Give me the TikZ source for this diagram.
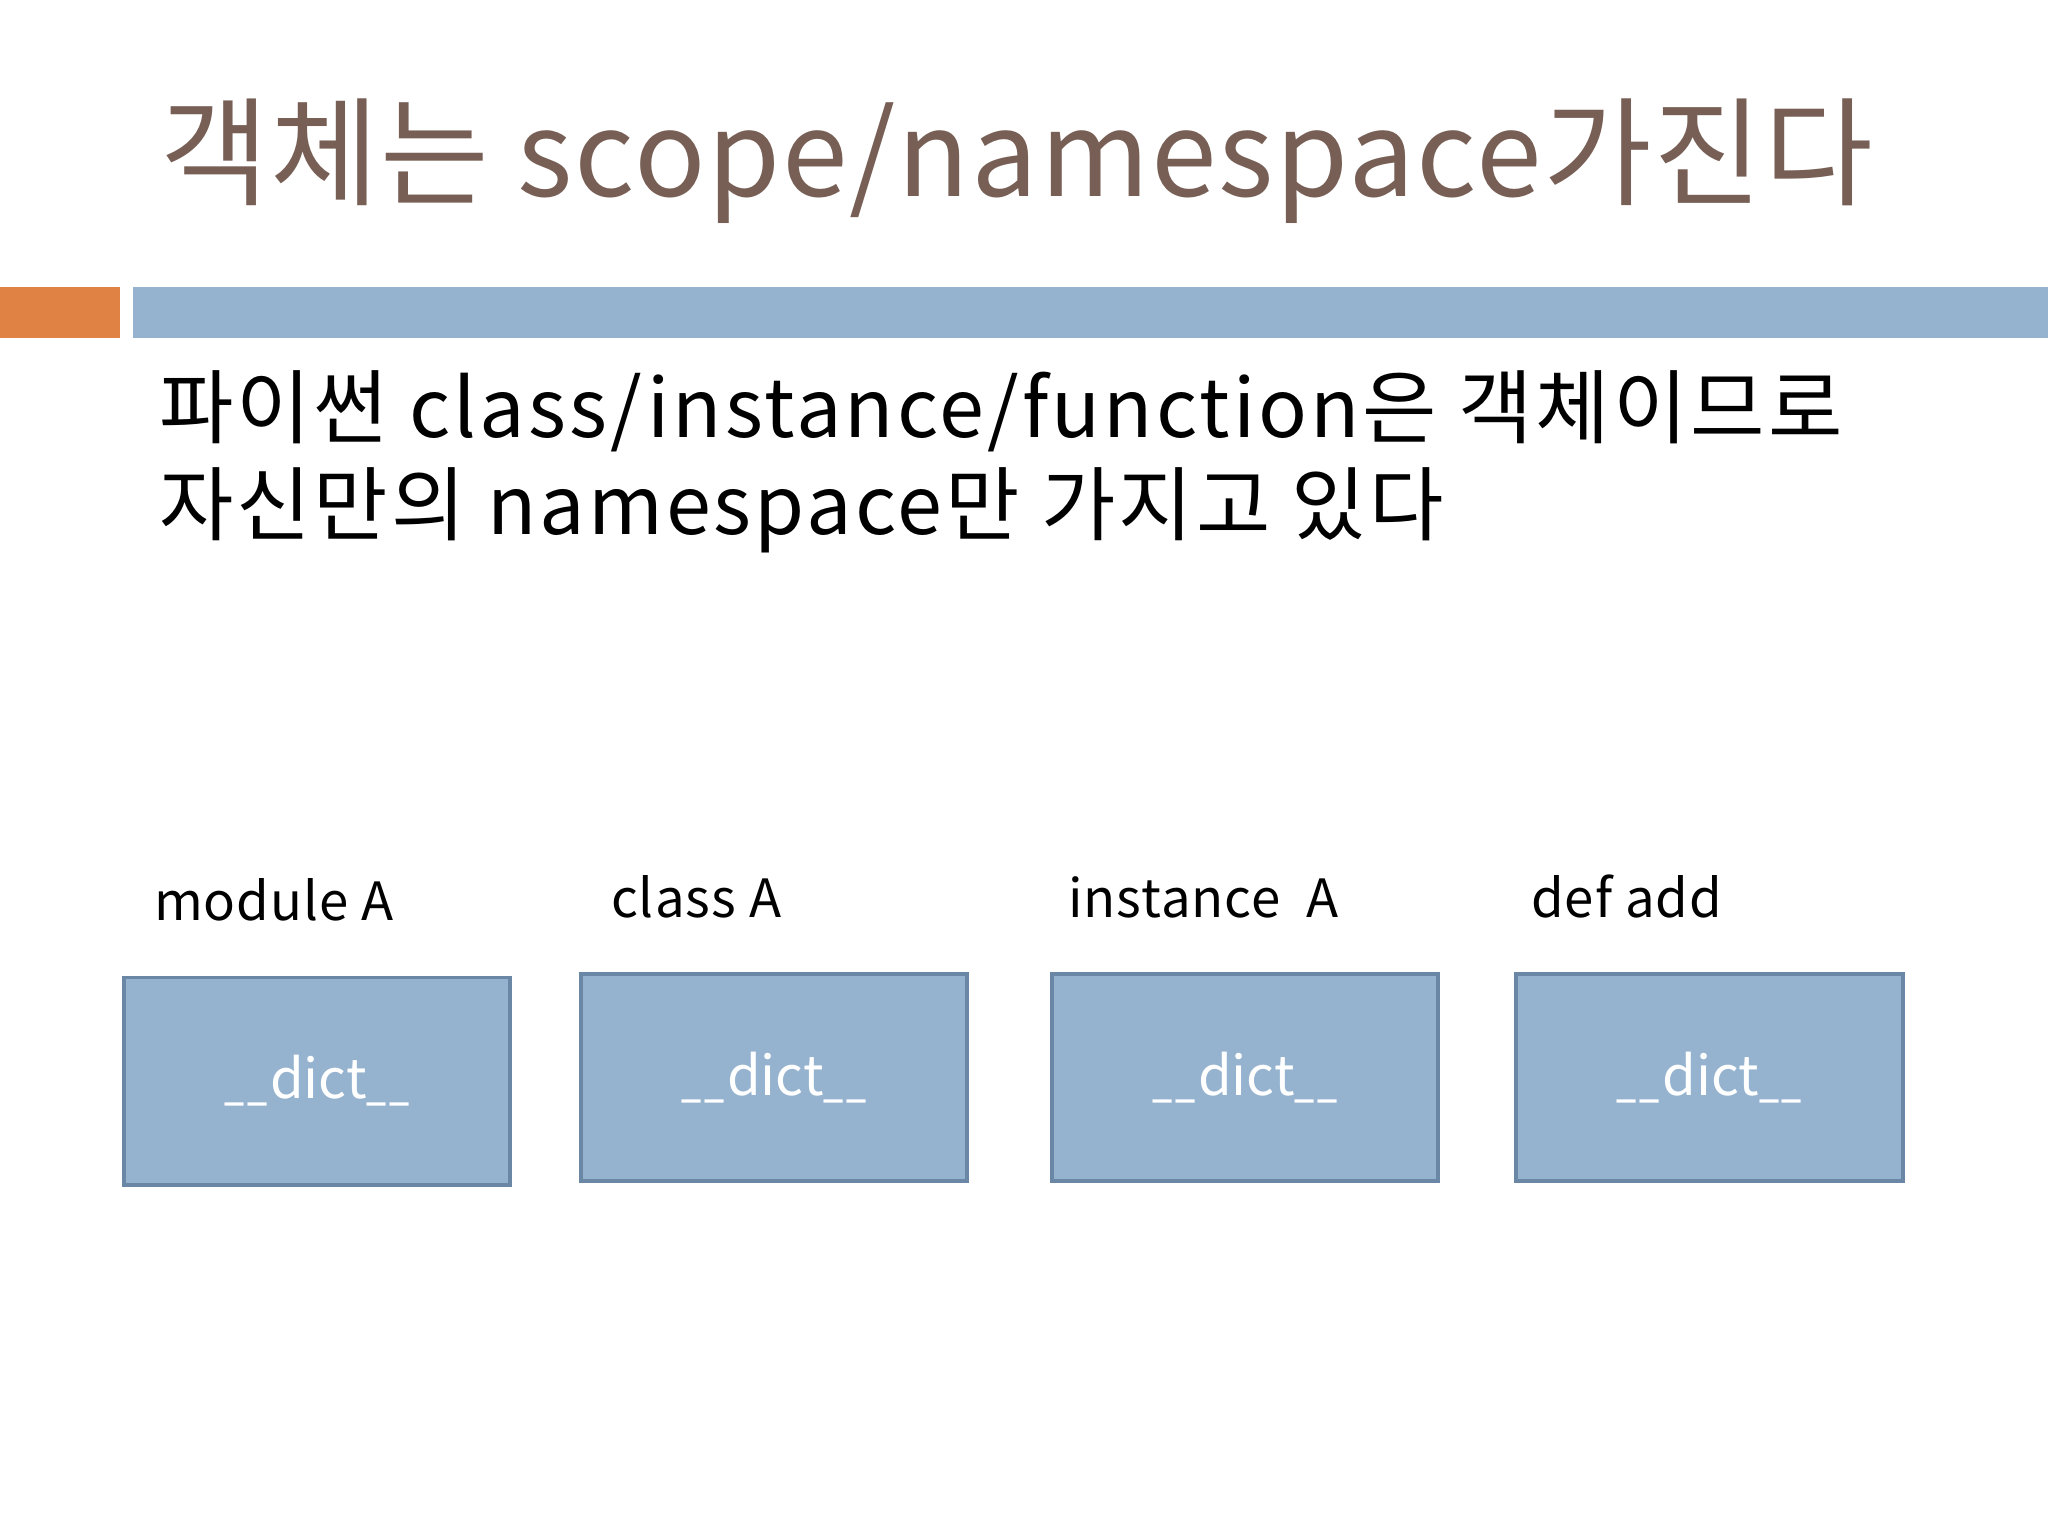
\documentclass[tikz,border=0pt]{standalone}
\usepackage{fontspec}
\setmainfont{Noto Sans CJK KR}
\usepackage{graphicx}
\usepackage{tikz}
\usepackage{xcolor}
\definecolor{titlebrown}{HTML}{775F55}
\definecolor{baseblue}{HTML}{95B3CF}
\definecolor{edgeblue}{HTML}{6A87A6}
\definecolor{accentorange}{HTML}{DF8244}
\newcommand{\dictus}{\scalebox{0.66}[1]{\_}\hspace{0.05em}}
\tikzset{
  txt/.style = {anchor=base west, inner sep=0pt, outer sep=0pt},
  dictbox/.style = {draw=edgeblue, line width=1.1pt, fill=baseblue, minimum width=3.86cm,
    minimum height=2.07cm, inner sep=0pt, text=white, font=\fontsize{15.5}{18}\selectfont},
  boxlabel/.style = {txt, font=\fontsize{15}{18}\selectfont\addfontfeatures{LetterSpace=2}},
  bodytext/.style = {txt, font=\fontsize{23}{29}\selectfont\addfontfeatures{LetterSpace=3.8}}
}

\begin{document}
\begin{tikzpicture}[x=0.01cm,y=-0.01cm]

  \useasboundingbox[fill=white] (0,0) rectangle (2048,1536);

  % title and bars
  \node[txt, text=titlebrown, font=\fontsize{33.6}{40}\selectfont\addfontfeatures{LetterSpace=1.5}] (title) at (160,196) {객체는 scope/namespace가진다};
  \fill[accentorange] (0,287) rectangle (120,338);
  \fill[baseblue] (133,287) rectangle (2048,338);

  \node[bodytext] (line1) at (159,437) {파이썬 class/instance/function은 객체이므로};
  \node[bodytext] (line2) at (159,534) {자신만의 namespace만 가지고 있다};

  % the four objects
  \node[boxlabel] (lmodule) at (154,920) {module A};
  \node[boxlabel] (lclass) at (611,917) {class A};
  \node[boxlabel] (linst) at (1068,917) {instance~~A};
  \node[boxlabel] (ldef) at (1531,917) {def add};

  \node[dictbox] (dmodule) at (317,1081) {\dictus\dictus dict\dictus\dictus};
  \node[dictbox] (dclass) at (774,1077.5) {\dictus\dictus dict\dictus\dictus};
  \node[dictbox] (dinst) at (1245,1077.5) {\dictus\dictus dict\dictus\dictus};
  \node[dictbox] (ddef) at (1709.5,1077.5) {\dictus\dictus dict\dictus\dictus};
\end{tikzpicture}
\end{document}
